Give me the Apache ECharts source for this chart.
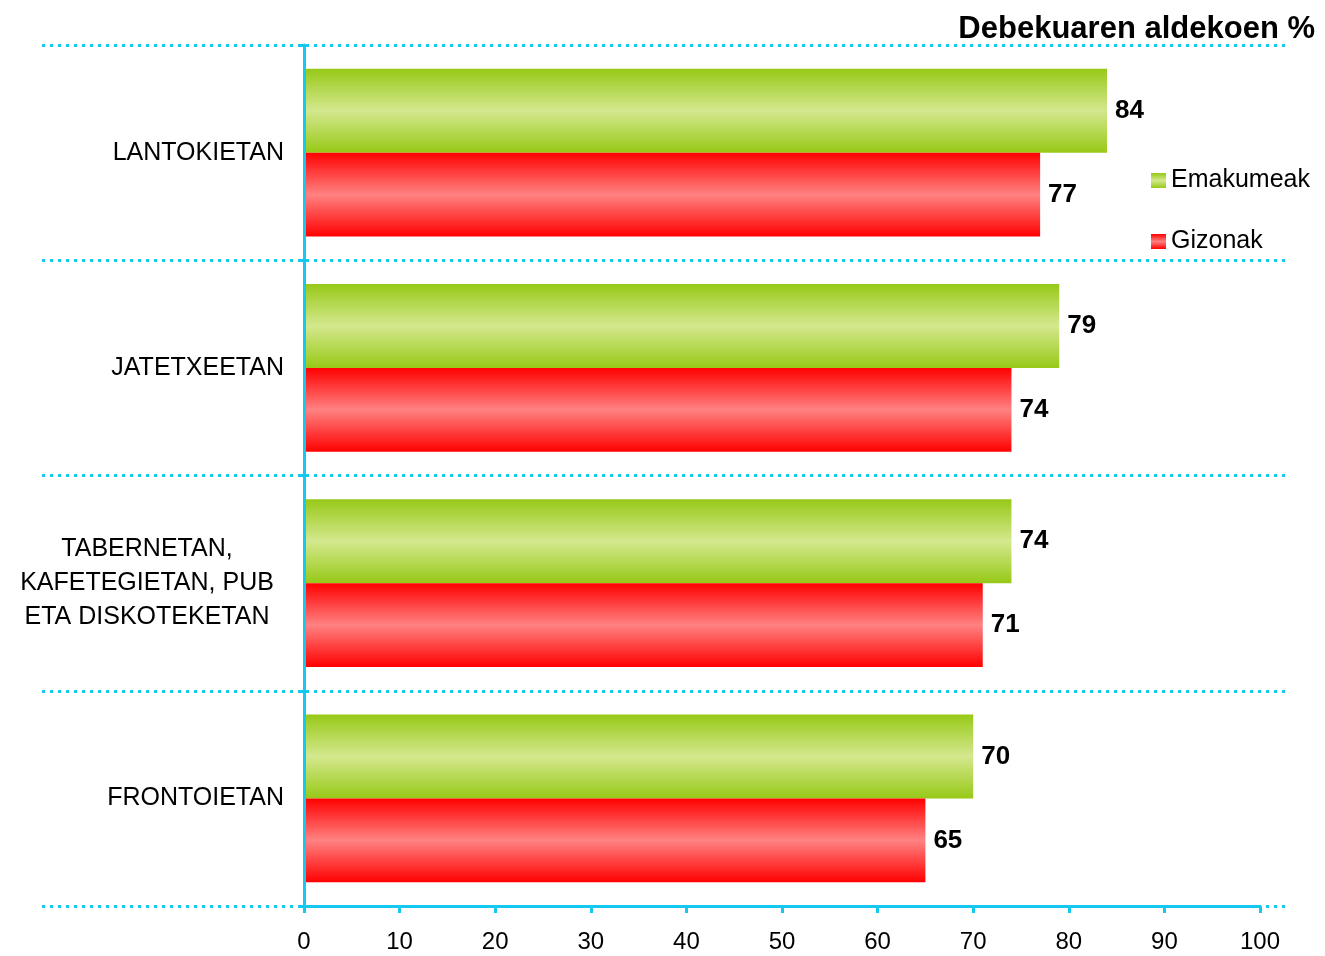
<!DOCTYPE html>
<html>
<head>
<meta charset="utf-8">
<script src="https://cdn.jsdelivr.net/npm/echarts@6/dist/echarts.min.js"></script>
<style>
html,body{margin:0;padding:0;background:#fff;}
#chart{width:1325px;height:956px;}
</style>
</head>
<body>
<div id="chart"></div>
<script>
const categories = ['LANTOKIETAN', 'JATETXEETAN', 'TABERNETAN,\nKAFETEGIETAN, PUB\nETA DISKOTEKETAN', 'FRONTOIETAN'];
const seriesNames = ['Emakumeak', 'Gizonak'];
const emakumeak = [84, 79, 74, 70];
const gizonak = [77, 74, 71, 65];
const titleText = 'Debekuaren aldekoen %';

const cyan = '#14C8F0';
const font = '"Liberation Sans", Arial, sans-serif';

function grad(edge, mid) {
  return new echarts.graphic.LinearGradient(0, 0, 0, 1, [
    {offset: 0, color: edge},
    {offset: 0.5, color: mid},
    {offset: 1, color: edge}
  ]);
}

const chart = echarts.init(document.getElementById('chart'), null, {renderer: 'canvas'});
chart.setOption({
  animation: false,
  backgroundColor: '#fff',
  textStyle: {fontFamily: font},
  title: {
    text: titleText,
    right: 5, top: 9,
    textStyle: {fontFamily: font, fontSize: 31, fontWeight: 'bold', color: '#000'}
  },
  legend: {
    orient: 'vertical',
    left: 1146, top: 163,
    icon: 'rect',
    itemWidth: 15, itemHeight: 15,
    itemGap: 36,
    textStyle: {fontFamily: font, fontSize: 25, color: '#000', lineHeight: 24},
    data: seriesNames
  },
  grid: [
    {left: 304, right: 65, top: 45, bottom: 50, containLabel: false},
    {left: 42, right: 40, top: 45, bottom: 50, containLabel: false}
  ],
  xAxis: [
    {
      type: 'value', gridIndex: 0, min: 0, max: 100, interval: 10, z: 5,
      axisLine: {show: true, lineStyle: {color: cyan, width: 3}},
      axisTick: {show: true, length: 7, lineStyle: {color: cyan, width: 3}},
      axisLabel: {fontFamily: font, fontSize: 24, color: '#000', margin: 24},
      splitLine: {show: false}
    },
    {
      type: 'value', gridIndex: 1, min: 0, max: 1, show: false
    }
  ],
  yAxis: [
    {
      type: 'category', gridIndex: 0, inverse: true, data: categories, z: 5,
      axisLine: {show: true, lineStyle: {color: cyan, width: 3}},
      axisTick: {show: true, length: 5, lineStyle: {color: cyan, width: 3}},
      axisLabel: {
        fontFamily: font, fontSize: 25, color: '#000', margin: 20, lineHeight: 34,
        formatter: function (v) {
          if (v.indexOf('\n') >= 0) {
            return v.split('\n').map(function (s) { return '{c|' + s + '}'; }).join('\n');
          }
          return v;
        },
        rich: {c: {width: 274, align: 'center', fontSize: 25, lineHeight: 34, fontFamily: font, color: '#000'}}
      },
      splitLine: {show: false}
    },
    {
      type: 'category', gridIndex: 1, inverse: true, data: categories, z: 0,
      axisLine: {show: false}, axisTick: {show: false}, axisLabel: {show: false},
      splitLine: {show: true, lineStyle: {color: cyan, width: 3, type: [3, 5]}}
    }
  ],
  series: [
    {
      name: seriesNames[0], type: 'bar', xAxisIndex: 0, yAxisIndex: 0,
      data: emakumeak, barGap: '0%', barCategoryGap: '22%', z: 3,
      itemStyle: {color: grad('#97C917', '#D4E88E')},
      label: {show: true, position: 'right', distance: 8, fontFamily: font, fontSize: 26, fontWeight: 'bold', color: '#000'}
    },
    {
      name: seriesNames[1], type: 'bar', xAxisIndex: 0, yAxisIndex: 0,
      data: gizonak, barGap: '0%', barCategoryGap: '22%', z: 3,
      itemStyle: {color: grad('#FF0000', '#FF8282')},
      label: {show: true, position: 'right', distance: 8, fontFamily: font, fontSize: 26, fontWeight: 'bold', color: '#000'}
    }
  ]
});
</script>
</body>
</html>
